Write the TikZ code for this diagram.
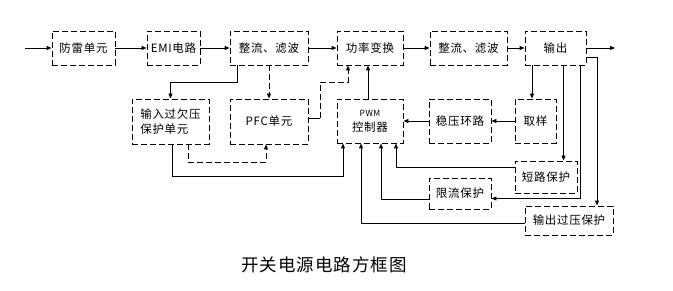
\documentclass[tikz,border=0pt]{standalone}
\usepackage{fontspec}
\setmainfont[LetterSpace=6]{Noto Sans CJK SC}
\usetikzlibrary{arrows.meta,calc}
\begin{document}
\begin{tikzpicture}[x=1pt,y=-1pt,
  blk/.style={draw, line width=0.9pt, dash pattern=on 6pt off 3pt, inner sep=0pt, font=\fontsize{11.5}{15}\selectfont},
  ln/.style={line width=0.9pt},
  arr/.style={ln, -{Triangle[length=5pt,width=4pt]}},
  dsh/.style={dash pattern=on 6pt off 3pt}]
\useasboundingbox (0,0) rectangle (673,291);
% top row
\node[blk, minimum width=63pt, minimum height=34pt] (lei) at (83.5,48) {防雷单元};
\node[blk, minimum width=53pt, minimum height=34pt] (emi) at (173.5,48) {EMI电路};
\node[blk, minimum width=78pt, minimum height=34pt] (zl1) at (269,48) {整流、滤波};
\node[blk, minimum width=66pt, minimum height=34pt] (gl) at (370,48) {功率变换};
\node[blk, minimum width=77pt, minimum height=34pt] (zl2) at (468.5,48) {整流、滤波};
\node[blk, minimum width=61pt, minimum height=34pt] (sc) at (555.5,48) {输出};
% second row
\node[blk, minimum width=77pt, minimum height=45pt, align=left] (qy) at (170.5,121.5) {输入过欠压\\保护单元};
\node[blk, minimum width=78pt, minimum height=45pt] (pfc) at (269,121.5) {PFC单元};
\node[blk, minimum width=66pt, minimum height=44pt, align=center] (pwm) at (370,121) {{\fontsize{8.5}{12}\selectfont PWM}\\控制器};
\node[blk, minimum width=62pt, minimum height=44pt] (wy) at (460,121) {稳压环路};
\node[blk, minimum width=41pt, minimum height=44pt] (qyang) at (535.5,121) {取样};
% protection boxes
\node[blk, minimum width=62pt, minimum height=32pt] (dl) at (546,177) {短路保护};
\node[blk, minimum width=62pt, minimum height=31pt] (xl) at (460,193.5) {限流保护};
\node[blk, minimum width=88pt, minimum height=29pt] (gy) at (569,220.5) {输出过压保护};
% caption
\node[font=\fontsize{17.5}{20}\selectfont] (cap) at (324,265) {开关电源电路方框图};
% in/out
\coordinate (in) at (25,48);
\coordinate (out) at (615,48);
\draw[arr] (in) -- (lei);
\draw[arr] (lei) -- (emi);
\draw[arr] (emi) -- (zl1);
\draw[arr] (zl1) -- (gl);
\draw[arr] (gl) -- (zl2);
\draw[arr] (zl2) -- (sc);
\draw[arr] (sc) -- (out);
% rectifier to input protection and PFC
\draw[arr] ([xshift=-32pt]zl1.south) -- ++(0,17) -| (qy.north);
\draw[arr, dsh] (zl1.south) -- (pfc.north);
% PFC to power conversion
\draw[ln] ([yshift=3.5pt]pfc.east) -- ++(12,0) coordinate (p1);
\draw[arr, dsh] (p1) -- ++(0,-36) -| ([xshift=-22pt]gl.south);
% PWM to power conversion
\draw[arr] ([xshift=-2pt]pwm.north) -- ([xshift=-2pt]gl.south);
% input protection to PWM and PFC
\draw[arr] ([xshift=1.5pt]qy.south) -- ++(0,32) -| ([xshift=-27pt]pwm.south);
\draw[arr, dsh] ([xshift=17.5pt]qy.south) -- ++(0,18) -| ([xshift=-3pt]pfc.south);
% feedback loop
\draw[arr] (wy.west) -- (pwm.east);
\draw[arr] (qyang.west) -- (wy.east);
\draw[arr] ([xshift=-23.5pt]sc.south) -- ([xshift=-23.5pt]sc.south |- qyang.north);
\draw[arr] ([xshift=8pt]sc.south) -- ([xshift=8pt]sc.south |- dl.north);
\draw[arr] ([xshift=24.5pt]sc.south) |- ([yshift=-5pt]xl.east);
\draw[arr] ([yshift=-9pt]sc.east) -| ([xshift=28pt]gy.north);
% protections to PWM
\draw[arr] ([yshift=10pt]dl.west) -| ([xshift=26pt]pwm.south);
\draw[arr] ([yshift=-5.5pt]xl.west) -| ([xshift=11pt]pwm.south);
\draw[arr] ([yshift=-2.5pt]gy.west) -| ([xshift=-9pt]pwm.south);
\end{tikzpicture}
\end{document}
